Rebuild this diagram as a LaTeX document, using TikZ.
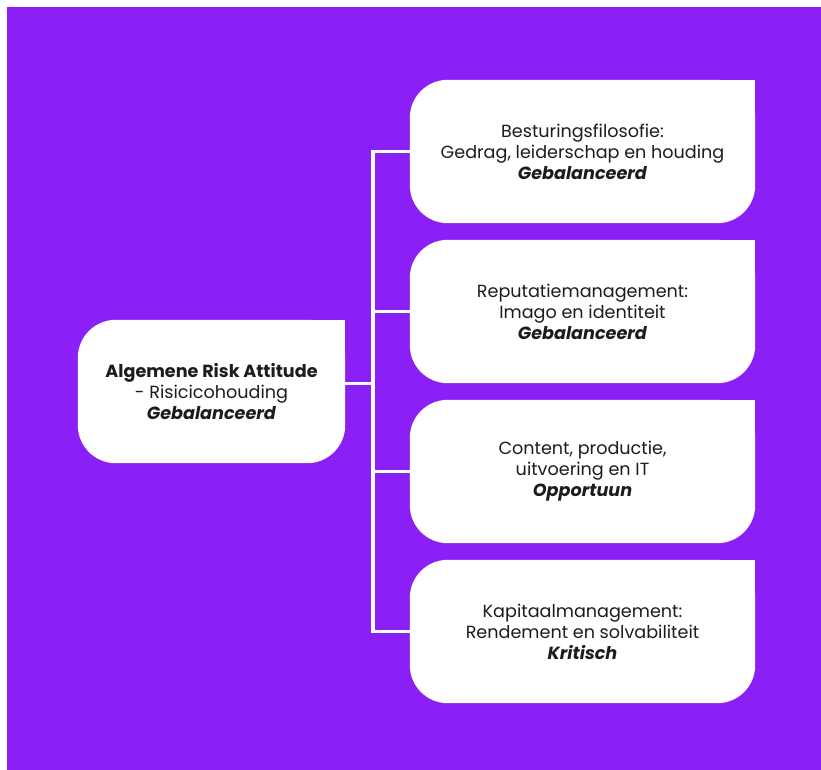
\documentclass[tikz,border=0pt]{standalone}
\usepackage{fontspec}
\setmainfont{Poppins}
\usetikzlibrary{backgrounds}

\definecolor{riskpurple}{HTML}{8A20F5}
\definecolor{risktext}{HTML}{1C1C1C}

\tikzset{
  riskbox/.style={minimum width=345pt, minimum height=143pt, inner sep=0pt,
    align=center, text=risktext, font=\fontsize{17.6}{21}\selectfont},
  mainbox/.style={riskbox, minimum width=267pt},
  riskline/.style={draw=white, line width=3.5pt},
}

% white box, three round corners, top right square
\newcommand{\boxfill}[1]{%
  \fill[white, rounded corners=38pt] (#1.south west) rectangle (#1.north east);
  \fill[white] (#1.north) rectangle (#1.east);
}

\begin{document}
\begin{tikzpicture}[x=1pt, y=-1pt]
\useasboundingbox (0,0) rectangle (821,770);

\node[mainbox] (main) at (211.5,391.5) {\textbf{Algemene Risk Attitude}\\- Risicicohouding\\\textbf{\textit{Gebalanceerd}}};

\node[riskbox] (besturing) at (582.5,151.5) {Besturingsfilosofie:\\Gedrag, leiderschap en houding\\\textbf{\textit{Gebalanceerd}}};
\node[riskbox] (reputatie) at (582.5,311.5) {Reputatiemanagement:\\Imago en identiteit\\\textbf{\textit{Gebalanceerd}}};
\node[riskbox] (content) at (582.5,471.5) {Content, productie,\\uitvoering en IT\\\textbf{\textit{Opportuun}}};
\node[riskbox] (kapitaal) at (582.5,631.5) {Kapitaalmanagement:\\Rendement en solvabiliteit\\\textbf{\textit{Kritisch}}};

\coordinate (split) at (373,383);

% connectors
\draw[riskline] ([yshift=8pt]main.east) -- ([yshift=8pt]main.east -| split);
\draw[riskline] (besturing.west) -| (split |- kapitaal.west) -- (kapitaal.west);
\foreach \b in {reputatie,content}
  \draw[riskline] (split |- \b.west) -- (\b.west);

\begin{scope}[on background layer]
  \fill[white] (0,0) rectangle (821,770);
  \fill[riskpurple] (7,7) rectangle (821,770);
  \foreach \b in {main,besturing,reputatie,content,kapitaal}
    {\boxfill{\b}}
\end{scope}
\end{tikzpicture}
\end{document}
